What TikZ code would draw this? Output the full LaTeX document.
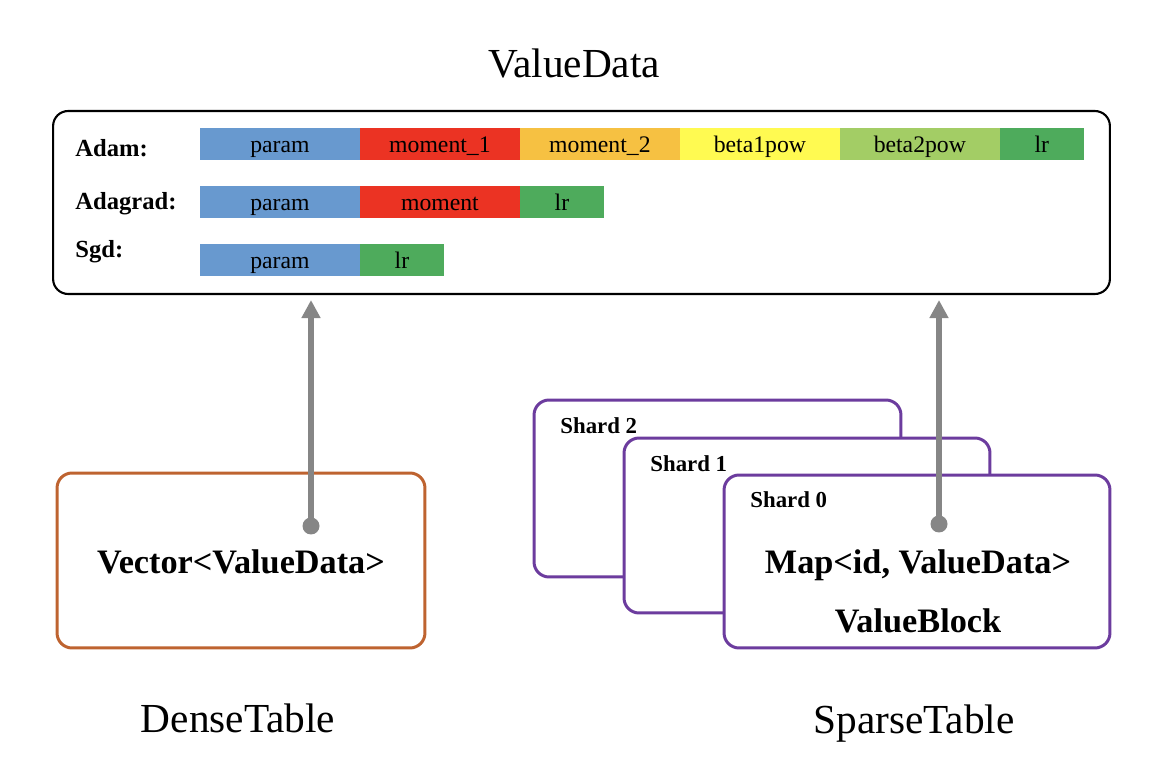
\documentclass[tikz,border=0pt]{standalone}
\usepackage{fontspec}
\setmainfont{Liberation Serif}
\usetikzlibrary{positioning,arrows.meta}
\definecolor{cparam}{HTML}{6899CF}
\definecolor{cmoma}{HTML}{EB3323}
\definecolor{cmomb}{HTML}{F6C142}
\definecolor{cbeta}{HTML}{FFFA51}
\definecolor{cbetb}{HTML}{A3CD65}
\definecolor{clr}{HTML}{4EAB5C}
\definecolor{cdense}{HTML}{BE6330}
\definecolor{cshard}{HTML}{6C3C9E}
\definecolor{cwire}{HTML}{868686}
\begin{document}
\begin{tikzpicture}[x=0.02cm,y=-0.02cm,
  cell/.style={fill=#1,minimum width=3.2cm,minimum height=0.64cm,inner sep=0pt,outer sep=0pt,
    text height=0.46cm,text depth=0.1cm,font=\fontsize{13.5}{16}\selectfont},
  half/.style={minimum width=1.68cm},
  algo/.style={anchor=base west,inner sep=0pt,font=\fontsize{14}{16}\selectfont\bfseries},
  shardbox/.style={draw=cshard,fill=white,line width=1.7pt,rounded corners=0.3cm},
  shardname/.style={anchor=base west,inner sep=0pt,font=\fontsize{13}{15}\selectfont\bfseries},
  inner/.style={anchor=base,inner sep=0pt,font=\fontsize{19.5}{22}\selectfont\bfseries},
  caption/.style={anchor=base,inner sep=0pt,font=\fontsize{23.5}{26}\selectfont},
  wire/.style={cwire,line width=0.13cm,-{Triangle[length=0.36cm,width=0.36cm]},shorten >=0.1cm}]
\useasboundingbox (0,0) rectangle (1166,766);

% ValueData
\node[caption] (title) at (574,78) {ValueData};
\node[draw,line width=1.2pt,rounded corners=0.3cm,minimum width=21.14cm,minimum height=3.66cm] (vd) at (581.5,202.5) {};

% Adam
\node[algo] (adam) at (75,157) {Adam:};
\node[cell=cparam,anchor=north west] (adam-param) at (200,128) {param};
\node[cell=cmoma,right=0pt of adam-param] (adam-m1) {moment\_1};
\node[cell=cmomb,right=0pt of adam-m1] (adam-m2) {moment\_2};
\node[cell=cbeta,right=0pt of adam-m2] (adam-b1) {beta1pow};
\node[cell=cbetb,right=0pt of adam-b1] (adam-b2) {beta2pow};
\node[cell=clr,half,right=0pt of adam-b2] (adam-lr) {lr};

% Adagrad
\node[algo] (adagrad) at (75,210) {Adagrad:};
\node[cell=cparam,anchor=north west] (adagrad-param) at (200,186) {param};
\node[cell=cmoma,right=0pt of adagrad-param] (adagrad-m) {moment};
\node[cell=clr,half,right=0pt of adagrad-m] (adagrad-lr) {lr};

% Sgd
\node[algo] (sgd) at (75,258) {Sgd:};
\node[cell=cparam,anchor=north west] (sgd-param) at (200,244) {param};
\node[cell=clr,half,right=0pt of sgd-param] (sgd-lr) {lr};

% DenseTable
\node[draw=cdense,line width=1.7pt,rounded corners=0.3cm,minimum width=7.36cm,minimum height=3.5cm] (dense) at (241,560.5) {};
\node[inner] (vec) at (241,573) {Vector<ValueData>};
\node[caption] (densename) at (238,732) {DenseTable};

% SparseTable
\node[shardbox,minimum width=7.34cm,minimum height=3.54cm] (shard2) at (717.5,488.5) {};
\node[shardname] (shard2name) at (560,434) {Shard 2};
\node[shardbox,minimum width=7.32cm,minimum height=3.5cm] (shard1) at (807,525.5) {};
\node[shardname] (shard1name) at (650,472) {Shard 1};
\node[shardbox,minimum width=7.72cm,minimum height=3.46cm] (shard0) at (917,561.5) {};
\node[shardname] (shard0name) at (750,507) {Shard 0};
\node[inner] (map) at (918,573) {Map<id, ValueData>};
\node[inner] (block) at (918,632) {ValueBlock};
\node[caption] (sparsename) at (914,733) {SparseTable};

% arrows
\coordinate (dsrc) at (311,526);
\coordinate (ssrc) at (939,524);
\fill[cwire] (dsrc) circle (0.17cm) (ssrc) circle (0.17cm);
\draw[wire] (dsrc) -- (dsrc |- vd.south);
\draw[wire] (ssrc) -- (ssrc |- vd.south);
\end{tikzpicture}
\end{document}
